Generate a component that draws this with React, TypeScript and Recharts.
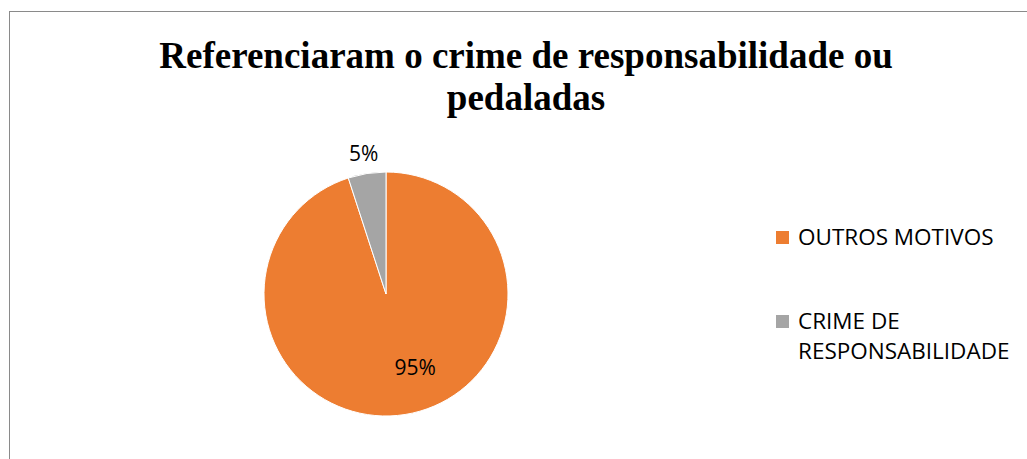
import React from 'react';
import { PieChart, Pie, Cell, Legend } from 'recharts';

const CATEGORIES = ['OUTROS MOTIVOS', 'CRIME DE RESPONSABILIDADE'];
const VALUES = [95, 5];
const LABELS = ['95%', '5%'];
const COLORS = ['#ED7D31', '#A5A5A5'];
const LEGEND_LINES = [['OUTROS MOTIVOS'], ['CRIME DE', 'RESPONSABILIDADE']];

const data = CATEGORIES.map((name, i) => ({ name, value: VALUES[i] }));

const RADIAN = Math.PI / 180;
const LABEL_FONT = '"Open Sans", "Noto Sans", sans-serif';

const renderLabel = (props: any) => {
  const { cx, cy, midAngle, outerRadius, index } = props;
  let x: number;
  let y: number;
  if (index === 0) {
    // inside, best fit like Excel
    x = cx + outerRadius * 0.24;
    y = cy + outerRadius * 0.6;
  } else {
    const r = outerRadius + 21;
    x = cx + r * Math.cos(-midAngle * RADIAN);
    y = cy + r * Math.sin(-midAngle * RADIAN);
  }
  return (
    <text x={x} y={y} textAnchor="middle" dominantBaseline="central" fill="#000" fontSize={21} fontFamily={LABEL_FONT}>
      {LABELS[index]}
    </text>
  );
};

const LegendContent = () => (
  <div style={{ fontFamily: LABEL_FONT, fontSize: 22.5, color: '#000' }}>
    {LEGEND_LINES.map((lines, i) => (
      <div key={i} style={{ display: 'flex', alignItems: 'flex-start', marginBottom: i === 0 ? 54 : 0 }}>
        <span style={{ width: 13, height: 13, background: COLORS[i], marginTop: 9, marginRight: 9, flexShrink: 0 }} />
        <div style={{ lineHeight: '30px' }}>
          {lines.map((l) => (
            <div key={l}>{l}</div>
          ))}
        </div>
      </div>
    ))}
  </div>
);

export default function App() {
  return (
    <div style={{ position: 'relative', width: 1027, height: 459, overflow: 'hidden', background: '#fff' }}>
      <style>{'body{margin:0;}'}</style>
      <div
        style={{
          position: 'absolute',
          left: 9,
          top: 11,
          width: 1100,
          height: 600,
          border: '1.5px solid #8a8a8a',
          boxSizing: 'border-box',
        }}
      />
      <div
        style={{
          position: 'absolute',
          left: 0,
          top: 35,
          width: 1052,
          textAlign: 'center',
          fontFamily: '"Liberation Serif", "Times New Roman", serif',
          fontWeight: 'bold',
          fontSize: 37,
          lineHeight: '42px',
          color: '#000',
        }}
      >
        Referenciaram o crime de responsabilidade ou
        <br />
        pedaladas
      </div>
      <div style={{ position: 'absolute', left: 0, top: 0 }}>
        <PieChart width={1027} height={459} margin={{ top: 0, right: 0, bottom: 0, left: 0 }}>
          <Pie
            data={data}
            dataKey="value"
            nameKey="name"
            cx={386}
            cy={294}
            outerRadius={122}
            startAngle={90}
            endAngle={-270}
            stroke="#fff"
            strokeWidth={1}
            label={renderLabel}
            labelLine={false}
            isAnimationActive={false}
          >
            {data.map((d, i) => (
              <Cell key={d.name} fill={COLORS[i]} />
            ))}
          </Pie>
          <Legend
            layout="vertical"
            content={<LegendContent />}
            wrapperStyle={{ position: 'absolute', left: 776, top: 222, width: 250 }}
          />
        </PieChart>
      </div>
    </div>
  );
}
